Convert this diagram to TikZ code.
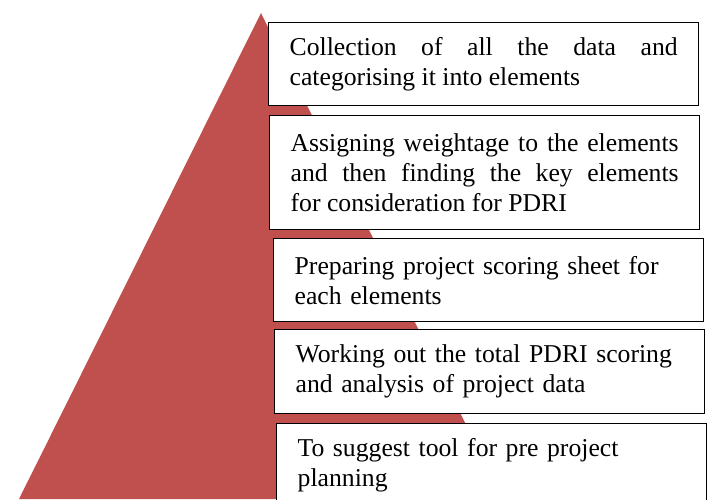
\documentclass[tikz,border=0pt]{standalone}
\usepackage{fontspec}
\setmainfont{Liberation Serif}
\definecolor{pyr}{HTML}{C0504D}
\hyphenpenalty=10000
\begin{document}
\begin{tikzpicture}[x=1pt,y=-1pt,
  stepbox/.style={draw=black,line width=1.3pt,fill=white,rectangle,anchor=north west,
    inner xsep=21pt,inner ysep=0pt,text width=388pt,minimum width=430pt,
    font=\fontsize{25.7}{30}\selectfont}]
\useasboundingbox (0,0) rectangle (708,499);
\clip (0,0) rectangle (708,499);
\fill[pyr] (261,13) -- (19,499) -- (503,499) -- cycle;
\node[stepbox,align=justify,minimum height=83pt] (b1) at (268,22)
  {Collection of all the data and\linebreak categorising it into elements};
\node[stepbox,align=justify,minimum height=114pt] (b2) at (269,115)
  {Assigning weightage to the elements\linebreak and then finding the key elements\linebreak for consideration for PDRI};
\node[stepbox,align=left,minimum height=83pt] (b3) at (273,238)
  {Preparing project scoring sheet for\\each elements};
\node[stepbox,align=left,minimum height=84pt] (b4) at (274,329)
  {Working out the total PDRI scoring\\and analysis of project data};
\node[stepbox,align=left,minimum height=84pt] (b5) at (276,423)
  {To suggest tool for pre project\\planning};
\end{tikzpicture}
\end{document}
